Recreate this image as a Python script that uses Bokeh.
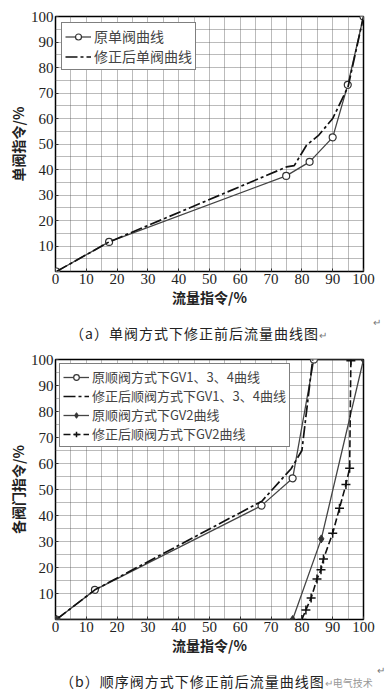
from bokeh.plotting import figure
from bokeh.models import Range1d, FixedTicker, Legend, LegendItem, Div
from bokeh.layouts import column
from bokeh.embed import file_html
from bokeh.resources import INLINE

# ---------------- data: chart (a) ----------------
a_orig_x = [0.3, 17.4, 74.9, 82.5, 90.0, 94.9, 100]
a_orig_y = [0, 11.6, 37.5, 43.0, 52.6, 73.2, 100]
a_corr_x = [0.3, 17.4, 75.0, 77.5, 81.5, 85.5, 90.0, 95.0, 100]
a_corr_y = [0, 11.6, 41.0, 41.5, 49.5, 53.5, 60.0, 72.5, 100]

# ---------------- data: chart (b) ----------------
b_gv134_orig_x = [0.3, 12.8, 66.9, 77.0, 83.9, 100]
b_gv134_orig_y = [0, 11.4, 43.8, 54.3, 100, 100]
b_gv134_corr_x = [0.3, 12.8, 67.0, 76.5, 80.0, 83.5]
b_gv134_corr_y = [0, 11.4, 45.5, 58.0, 65.0, 100]
b_gv2_orig_x = [0.3, 77.0, 86.3, 100]
b_gv2_orig_y = [0, 0, 31.0, 100]
b_gv2_corr_x = [80.0, 81.3, 83.0, 84.9, 86.2, 87.0, 90.0, 92.2, 94.3, 95.5, 95.9]
b_gv2_corr_y = [0, 3.7, 8.3, 15.6, 19.1, 23.3, 33.2, 42.8, 51.9, 58.2, 99.5]

x_ticks = [0, 10, 20, 30, 40, 50, 60, 70, 80, 90, 100]
y_ticks = [10, 20, 30, 40, 50, 60, 70, 80, 90, 100]
grid_ticks = list(range(0, 101, 5))

SERIF = "Liberation Serif"
CJK = "Noto Sans CJK SC"
W = 386

def base_fig(height, top, bottom, ylabel):
    p = figure(width=W, height=height, output_backend="svg", toolbar_location=None,
               x_range=Range1d(0, 100), y_range=Range1d(0, 100),
               min_border_left=55, min_border_right=23, min_border_top=top,
               min_border_bottom=bottom)
    p.outline_line_color = "black"
    p.outline_line_width = 1.5
    p.xaxis.ticker = FixedTicker(ticks=x_ticks)
    p.yaxis.ticker = FixedTicker(ticks=y_ticks)
    p.xgrid.ticker = FixedTicker(ticks=grid_ticks)
    p.ygrid.ticker = FixedTicker(ticks=grid_ticks)
    for g in (p.xgrid, p.ygrid):
        g.grid_line_color = "#555555"
        g.grid_line_dash = "1 1"
        g.grid_line_width = 1
        g.grid_line_alpha = 0.8
    for ax in (p.xaxis, p.yaxis):
        ax.axis_line_color = None
        ax.major_tick_in = 3
        ax.major_tick_out = 0
        ax.minor_tick_line_color = None
        ax.major_tick_line_color = "#333333"
        ax.major_label_text_font = SERIF
        ax.major_label_text_font_size = "15px"
        ax.major_label_text_color = "#222222"
        ax.major_label_standoff = 2
        ax.axis_label_text_font = CJK
        ax.axis_label_text_font_style = "bold"
        ax.axis_label_text_font_size = "14px"
        ax.axis_label_text_color = "#222222"
        ax.axis_label_standoff = 0
    p.xaxis.axis_label = "流量指令/%"
    p.yaxis.axis_label = ylabel
    return p

def caption(text, extra, height, top, left, mark_right):
    html = ("<div style='position:relative;width:386px;height:%dpx'>"
            "<span style='position:absolute;right:%dpx;top:0px;font-size:10px;color:#777777;"
            "line-height:10px'>↵</span>"
            "<div style='position:absolute;left:%dpx;top:%dpx;white-space:nowrap;"
            "line-height:18px;letter-spacing:1px'>%s%s</div></div>") % (
                height, mark_right, left, top, text, extra)
    return Div(text=html, width=W, height=height, margin=0,
               styles={"font-family": CJK, "font-size": "14px", "color": "#222222"})

# ---------------- chart (a) ----------------
pa = base_fig(317, 16, 46, "单阀指令/%")
r1 = pa.line(a_orig_x, a_orig_y, line_color="#444444", line_width=1.3)
r1m = pa.scatter(a_orig_x, a_orig_y, marker="circle", size=7, line_color="#333333",
                 fill_color="white", line_width=1.2)
r2 = pa.line(a_corr_x, a_corr_y, line_color="#111111", line_width=1.7, line_dash="12 3 3 3")
leg_a = Legend(items=[LegendItem(label="原单阀曲线", renderers=[r1, r1m]),
                      LegendItem(label="修正后单阀曲线", renderers=[r2])],
               location="top_left", margin=6, padding=3, spacing=0,
               label_height=15, glyph_height=15, glyph_width=26, label_standoff=3,
               label_text_font=CJK, label_text_font_size="14px",
               border_line_color="black", border_line_width=1.5,
               background_fill_color="white", background_fill_alpha=1)
pa.add_layout(leg_a)
cap_a = caption("（a）单阀方式下修正前后流量曲线图",
                "<span style='font-size:10px;color:#777777;letter-spacing:0'>↵</span>",
                35, 7, 70, 5)

# ---------------- chart (b) ----------------
pb = base_fig(313, 7, 46, "各阀门指令/%")
s1 = pb.line(b_gv134_orig_x, b_gv134_orig_y, line_color="#444444", line_width=1.3)
s1m = pb.scatter(b_gv134_orig_x[:-1], b_gv134_orig_y[:-1], marker="circle", size=7,
                 line_color="#333333", fill_color="white", line_width=1.2)
s2 = pb.line(b_gv134_corr_x, b_gv134_corr_y, line_color="#111111", line_width=1.7,
             line_dash="12 3 3 3")
s3 = pb.line(b_gv2_orig_x, b_gv2_orig_y, line_color="#444444", line_width=1.3)
s3m = pb.scatter(b_gv2_orig_x, b_gv2_orig_y, marker="diamond", size=8,
                 line_color="#333333", fill_color="#333333")
s4 = pb.line(b_gv2_corr_x, b_gv2_corr_y, line_color="#111111", line_width=1.6, line_dash="7 3")
s4m = pb.scatter(b_gv2_corr_x, b_gv2_corr_y, marker="cross", size=9,
                 line_color="#111111", line_width=1.5)
leg_b = Legend(items=[LegendItem(label="原顺阀方式下GV1、3、4曲线", renderers=[s1, s1m]),
                      LegendItem(label="修正后顺阀方式下GV1、3、4曲线", renderers=[s2]),
                      LegendItem(label="原顺阀方式下GV2曲线", renderers=[s3, s3m]),
                      LegendItem(label="修正后顺阀方式下GV2曲线", renderers=[s4, s4m])],
               location="top_left", margin=4, padding=3, spacing=0,
               label_height=14, glyph_height=14, glyph_width=26, label_standoff=3,
               label_text_font=CJK, label_text_font_size="13px",
               border_line_color="black", border_line_width=1.5,
               background_fill_color="white", background_fill_alpha=1)
pb.add_layout(leg_b)
cap_b = caption("（b）顺序阀方式下修正前后流量曲线图",
                "<span style='font-size:10px;color:#999999;letter-spacing:0'>↵电气技术</span>",
                28, 7, 60, 1)

layout = column(pa, cap_a, pb, cap_b, spacing=0)
open("out.html", "w").write(file_html(layout, INLINE))
